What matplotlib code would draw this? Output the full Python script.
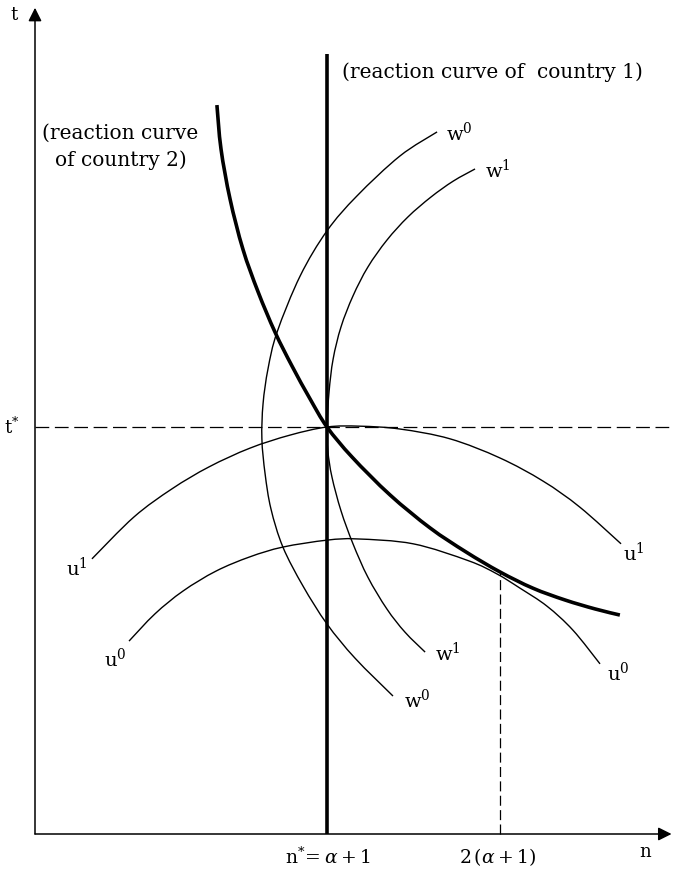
import matplotlib
matplotlib.use('Agg')
import matplotlib.pyplot as plt
from matplotlib.path import Path
from matplotlib.patches import PathPatch
import numpy as np

# n is measured in units of n* = alpha+1, t in units of t*
n_star = 1.0
t_star = 1.0
n_double = 1.592      # 2(alpha+1) as drawn
t_tangent = 0.641     # where u0 touches country 2's reaction curve

# reaction curve of country 2
r2_n = [0.623, 0.637, 0.668, 0.712, 0.764, 0.822, 0.880, 0.942, 1.000,
        1.086, 1.216, 1.353, 1.476, 1.592, 1.705, 1.815, 1.918, 2.003]
r2_t = [1.791, 1.683, 1.560, 1.437, 1.332, 1.233, 1.150, 1.069, 1.000,
        0.926, 0.833, 0.752, 0.693, 0.644, 0.604, 0.575, 0.553, 0.538]

# reaction curve of country 1 (vertical)
r1_top = 1.916

# iso-welfare curves of country 1
w0_n = [1.377, 1.250, 1.103, 1.000, 0.908, 0.829, 0.798, 0.781, 0.777,
        0.788, 0.808, 0.849, 0.918, 1.000, 1.096, 1.226]
w0_t = [1.725, 1.666, 1.568, 1.482, 1.371, 1.233, 1.143, 1.057, 0.971,
        0.885, 0.799, 0.705, 0.609, 0.516, 0.432, 0.339]
w1_n = [1.507, 1.432, 1.356, 1.277, 1.205, 1.140, 1.089, 1.048, 1.021, 1.007,
        1.000, 1.003, 1.017, 1.048, 1.089, 1.140, 1.205, 1.267, 1.336]
w1_t = [1.634, 1.604, 1.565, 1.516, 1.459, 1.393, 1.322, 1.246, 1.167, 1.086,
        1.000, 0.941, 0.877, 0.794, 0.713, 0.631, 0.553, 0.496, 0.447]

# iso-welfare curves of country 2
u1_n = [0.195, 0.339, 0.469, 0.596, 0.736, 0.873, 1.000, 1.113, 1.250,
        1.421, 1.592, 1.740, 1.866, 2.007]
u1_t = [0.676, 0.779, 0.848, 0.902, 0.948, 0.980, 1.000, 1.002, 0.995,
        0.971, 0.924, 0.867, 0.803, 0.713]
u0_n = [0.322, 0.411, 0.507, 0.620, 0.736, 0.849, 1.000, 1.103, 1.295,
        1.486, 1.582, 1.661, 1.753, 1.842, 1.935]
u0_t = [0.474, 0.541, 0.597, 0.646, 0.681, 0.705, 0.722, 0.725, 0.713,
        0.671, 0.639, 0.604, 0.560, 0.501, 0.418]


def smooth_path(xs, ys):
    # Catmull-Rom through the points, handed to matplotlib as cubic Beziers
    p = np.column_stack([xs, ys]).astype(float)
    p = np.vstack([p[0], p, p[-1]])
    verts = [p[1]]
    codes = [Path.MOVETO]
    for i in range(1, len(p) - 2):
        c1 = p[i] + (p[i + 1] - p[i - 1]) / 6.0
        c2 = p[i + 1] - (p[i + 2] - p[i]) / 6.0
        verts += [c1, c2, p[i + 1]]
        codes += [Path.CURVE4] * 3
    return Path(verts, codes)


plt.rcParams['font.family'] = ['DejaVu Serif']
plt.rcParams['mathtext.fontset'] = 'dejavuserif'

fig = plt.figure(figsize=(6.73, 8.70), dpi=100)
ax = fig.add_axes([0, 0, 1, 1])
ax.set_xlim(-35 / 292, 638 / 292)
ax.set_ylim(-35 / 407, 835 / 407)
ax.axis('off')

k = 'black'

# axes with arrows
arrow = dict(arrowstyle='-|>', color=k, lw=1.1, mutation_scale=20,
             shrinkA=0, shrinkB=0)
ax.annotate('', xy=(2.18, 0), xytext=(0, 0), arrowprops=arrow,
            annotation_clip=False)
ax.annotate('', xy=(0, 2.03), xytext=(0, 0), arrowprops=arrow,
            annotation_clip=False)

# dashed guide lines
ax.plot([0, 2.2], [t_star, t_star], color=k, lw=0.9, dashes=(11, 4.5))
ax.plot([n_double, n_double], [0, t_tangent], color=k, lw=0.9, dashes=(8, 3.5))

# thin indifference curves
for xs, ys in [(w0_n, w0_t), (w1_n, w1_t), (u1_n, u1_t), (u0_n, u0_t)]:
    ax.add_patch(PathPatch(smooth_path(xs, ys), fill=False, edgecolor=k,
                           lw=1.0, capstyle='butt'))

# reaction curves
ax.plot([n_star, n_star], [0, r1_top], color=k, lw=2.6, solid_capstyle='butt')
ax.add_patch(PathPatch(smooth_path(r2_n, r2_t), fill=False, edgecolor=k,
                       lw=2.6, capstyle='butt', joinstyle='round'))

# axis labels
ax.text(-0.072, 2.015, 't', fontsize=13, ha='center', va='center')
ax.text(-0.079, 1.002, r't$^{*}$', fontsize=13, ha='center', va='center')
ax.text(2.089, -0.042, 'n', fontsize=13, ha='center', va='center')
ax.text(1.003, -0.054, r'$\mathrm{n}^{*}\!=\alpha+1$', fontsize=13.5,
        ha='center', va='center')
ax.text(1.585, -0.054, r'$\mathrm{2}\,(\alpha+\mathrm{1})$', fontsize=13.5,
        ha='center', va='center')

# reaction curve notes
fs = 14.5
ax.text(0.024, 1.725, '(reaction curve', fontsize=fs, ha='left', va='center')
ax.text(0.068, 1.658, 'of country 2)', fontsize=fs, ha='left', va='center')
ax.text(1.051, 1.875, '(reaction curve of  country 1)', fontsize=fs,
        ha='left', va='center')

# curve labels
lf = 14
ax.text(1.452, 1.725, r'w$^{0}$', fontsize=lf, ha='center', va='center')
ax.text(1.585, 1.634, r'w$^{1}$', fontsize=lf, ha='center', va='center')
ax.text(1.308, 0.332, r'w$^{0}$', fontsize=lf, ha='center', va='center')
ax.text(1.414, 0.447, r'w$^{1}$', fontsize=lf, ha='center', va='center')
ax.text(0.144, 0.656, r'u$^{1}$', fontsize=lf, ha='center', va='center')
ax.text(0.274, 0.432, r'u$^{0}$', fontsize=lf, ha='center', va='center')
ax.text(2.052, 0.693, r'u$^{1}$', fontsize=lf, ha='center', va='center')
ax.text(1.997, 0.398, r'u$^{0}$', fontsize=lf, ha='center', va='center')

fig.savefig('out.png', dpi=100)
